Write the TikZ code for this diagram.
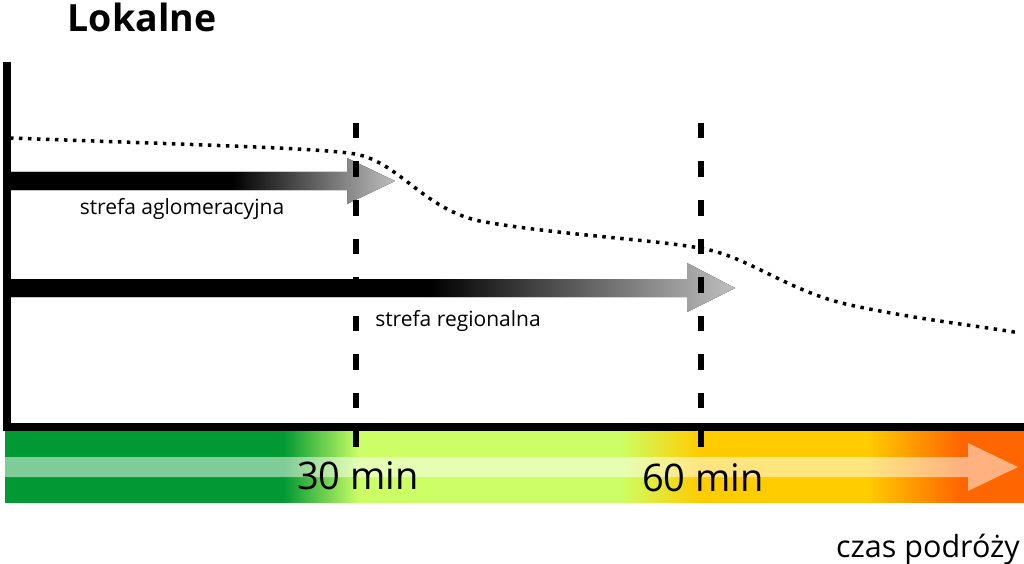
\documentclass[tikz,border=0pt]{standalone}
\usepackage{fontspec}
\setmainfont{Open Sans}
\usepackage{xcolor}
\usetikzlibrary{positioning}

\definecolor{zonegreen}{HTML}{009933}
\definecolor{zonelime}{HTML}{CCFF66}
\definecolor{zoneyellow}{HTML}{FFCC00}
\definecolor{zoneorange}{HTML}{FF6600}

% colour scale of the time axis (visible part is 25bp..75bp)
\pgfdeclarehorizontalshading{timescale}{100bp}{%
  color(0bp)=(zonegreen); color(38.65bp)=(zonegreen);
  color(42.4bp)=(zonelime); color(55.15bp)=(zonelime);
  color(59.1bp)=(zoneyellow); color(67.3bp)=(zoneyellow);
  color(71.85bp)=(zoneorange); color(100bp)=(zoneorange)}
% black arrows fading out towards the head
\pgfdeclarehorizontalshading{zonefade}{100bp}{%
  color(0bp)=(black); color(54bp)=(black);
  color(75bp)=(black!25); color(100bp)=(black!25)}

\begin{document}
\begin{tikzpicture}[
    x=1pt, y=-1pt,
    axis/.style={line width=7.5pt, miter limit=4},
    tick/.style={line width=6.5pt, dash pattern=on 15.5pt off 23pt},
    trend/.style={line width=3.5pt, dash pattern=on 3.5pt off 5.5pt},
    zone/.style={shading=zonefade},
    label/.style={anchor=base, font=\fontsize{21}{25}\selectfont},
    mins/.style={anchor=base, font=\fontsize{38}{44}\selectfont}
  ]
  \useasboundingbox (0,0) rectangle (1024,564);

  % time scale bar
  \fill[shading=timescale] (5,431) rectangle (1024,502);
  \fill[white, fill opacity=0.5] (5,457) -- (968,457) -- (968,443) -- (1018,467)
    -- (968,491) -- (968,477) -- (5,477) -- cycle;

  % axes
  \coordinate (top) at (7,62);
  \coordinate (origin) at (7,427);
  \coordinate (end) at (1024,427);
  \draw[axis] (top) -- (origin) -- (end);

  % zones
  \fill[zone] (7,172) -- (347,172) -- (347,158) -- (395,181) -- (347,204)
    -- (347,190) -- (7,190) -- cycle;
  \fill[zone] (7,279) -- (687,279) -- (687,263) -- (735,288) -- (687,312)
    -- (687,297) -- (7,297) -- cycle;

  % trend line
  \draw[trend] (10,138) .. controls (200,145) and (320,148) .. (355,154)
    .. controls (400,162) and (425,212) .. (485,222)
    .. controls (560,235) and (660,240) .. (705,249)
    .. controls (750,258) and (790,292) .. (850,305)
    .. controls (920,320) and (980,326) .. (1020,333);

  % 30 and 60 min marks
  \draw[tick] (356,123) -- (356,447);
  \draw[tick] (701,123) -- (701,447);

  \node[anchor=base, font=\bfseries\fontsize{37.5}{44}\selectfont] (title) at (142,32) {Lokalne};
  \node[label] (aglo) at (182,214) {strefa aglomeracyjna};
  \node[label] (region) at (458,326) {strefa regionalna};
  \node[mins] (t30) at (358,489) {30 min};
  \node[mins] (t60) at (703,491) {60 min};
  \node[anchor=base, font=\fontsize{30.5}{36}\selectfont] (czas) at (928,557) {czas podróży};
\end{tikzpicture}
\end{document}
